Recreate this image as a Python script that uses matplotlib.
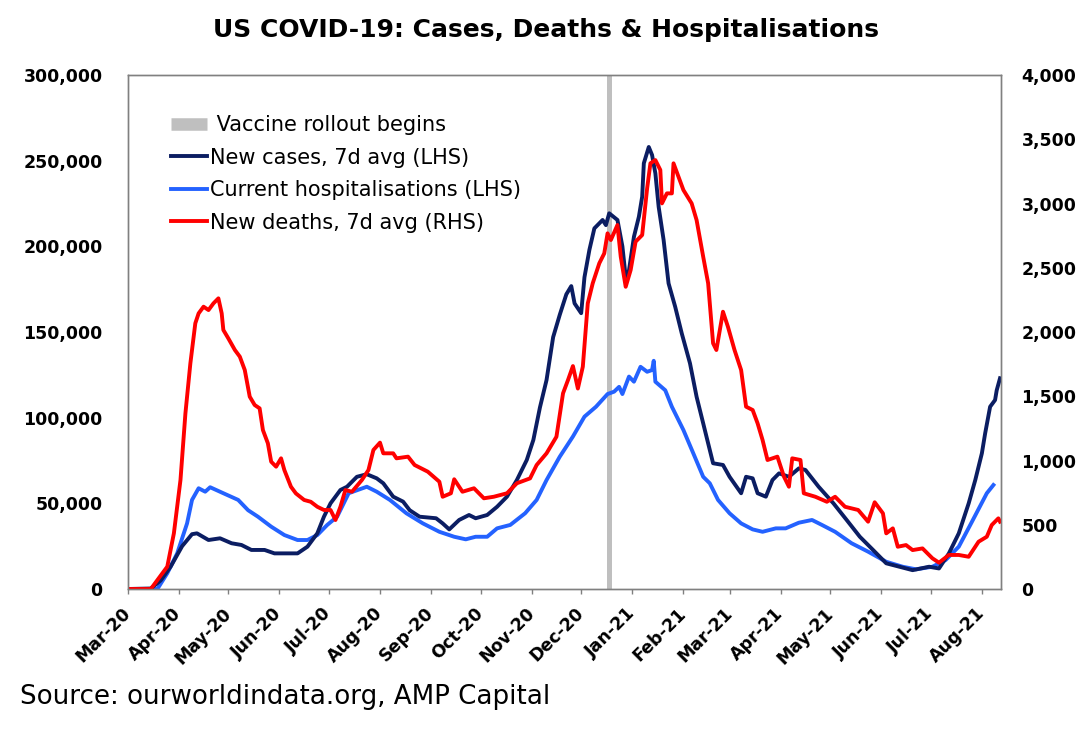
import datetime as dt

import matplotlib.dates as mdates
import matplotlib.pyplot as plt
import pandas as pd
from matplotlib.lines import Line2D
from matplotlib.ticker import FuncFormatter, MultipleLocator

# values
cases_dates = [
    "2020-03-01", "2020-03-15", "2020-03-21", "2020-03-27", "2020-04-03", "2020-04-09",
    "2020-04-12", "2020-04-19", "2020-04-26", "2020-05-03", "2020-05-09", "2020-05-15",
    "2020-05-23", "2020-05-29", "2020-06-06", "2020-06-12", "2020-06-18", "2020-06-24",
    "2020-06-28", "2020-07-02", "2020-07-08", "2020-07-12", "2020-07-18", "2020-07-24",
    "2020-07-30", "2020-08-03", "2020-08-09", "2020-08-15", "2020-08-19", "2020-08-25",
    "2020-09-04", "2020-09-08", "2020-09-12", "2020-09-18", "2020-09-24", "2020-09-28",
    "2020-10-05", "2020-10-11", "2020-10-17", "2020-10-23", "2020-10-29", "2020-11-02",
    "2020-11-06", "2020-11-10", "2020-11-14", "2020-11-18", "2020-11-22", "2020-11-25",
    "2020-11-27", "2020-12-01", "2020-12-03", "2020-12-06", "2020-12-09", "2020-12-14",
    "2020-12-16", "2020-12-18", "2020-12-23", "2020-12-26", "2020-12-28", "2020-12-30",
    "2021-01-02", "2021-01-05", "2021-01-07", "2021-01-08", "2021-01-11", "2021-01-13",
    "2021-01-15", "2021-01-17", "2021-01-20", "2021-01-23", "2021-01-27", "2021-01-31",
    "2021-02-05", "2021-02-09", "2021-02-13", "2021-02-15", "2021-02-19", "2021-02-25",
    "2021-03-01", "2021-03-08", "2021-03-11", "2021-03-15", "2021-03-18", "2021-03-23",
    "2021-03-27", "2021-03-31", "2021-04-06", "2021-04-12", "2021-04-16", "2021-04-24",
    "2021-05-03", "2021-05-11", "2021-05-19", "2021-05-27", "2021-06-04", "2021-06-12",
    "2021-06-20", "2021-06-30", "2021-07-06", "2021-07-12", "2021-07-18", "2021-07-24",
    "2021-07-28", "2021-08-01", "2021-08-03", "2021-08-06", "2021-08-09", "2021-08-10",
    "2021-08-12",
]
cases = [
    0, 300, 5000, 13000, 25000, 32000,
    32500, 28600, 29600, 26700, 25700, 22800,
    22800, 20800, 20800, 20800, 24700, 32500,
    42200, 50000, 57800, 59700, 65500, 67000,
    64600, 61700, 53900, 51000, 46000, 42200,
    41300, 38300, 34800, 40300, 43200, 41300,
    43200, 48000, 53900, 63600, 75300, 87000,
    106000, 122000, 147000, 160000, 172000, 176800,
    166700, 161000, 182000, 198000, 210500, 215400,
    212400, 219300, 215400, 200000, 182000, 186000,
    205600, 217300, 229000, 248500, 258000, 253300,
    242600, 223000, 203700, 178400, 164800, 149200,
    131700, 112200, 96700, 88900, 73400, 72400,
    65500, 55900, 65500, 64600, 55900, 53900,
    63600, 67500, 65500, 70400, 69500, 59700,
    50000, 40300, 30500, 22800, 15000, 13000,
    11000, 13000, 12000, 20800, 32500, 50000,
    63600, 79200, 90900, 106400, 110300, 116000,
    123000,
]

hosp_dates = [
    "2020-03-01", "2020-03-19", "2020-03-25", "2020-03-31", "2020-04-06", "2020-04-09",
    "2020-04-13", "2020-04-17", "2020-04-20", "2020-04-28", "2020-05-07", "2020-05-13",
    "2020-05-19", "2020-05-27", "2020-06-04", "2020-06-12", "2020-06-18", "2020-06-24",
    "2020-06-30", "2020-07-06", "2020-07-13", "2020-07-24", "2020-07-30", "2020-08-07",
    "2020-08-17", "2020-08-27", "2020-09-06", "2020-09-15", "2020-09-22", "2020-09-28",
    "2020-10-05", "2020-10-11", "2020-10-19", "2020-10-28", "2020-11-04", "2020-11-10",
    "2020-11-18", "2020-11-26", "2020-12-03", "2020-12-10", "2020-12-17", "2020-12-21",
    "2020-12-24", "2020-12-26", "2020-12-30", "2021-01-02", "2021-01-06", "2021-01-10",
    "2021-01-13", "2021-01-14", "2021-01-15", "2021-01-21", "2021-01-25", "2021-02-01",
    "2021-02-07", "2021-02-13", "2021-02-17", "2021-02-22", "2021-03-01", "2021-03-08",
    "2021-03-15", "2021-03-21", "2021-03-29", "2021-04-04", "2021-04-12", "2021-04-20",
    "2021-04-26", "2021-05-04", "2021-05-14", "2021-05-24", "2021-06-04", "2021-06-14",
    "2021-06-22", "2021-07-02", "2021-07-10", "2021-07-18", "2021-07-26", "2021-08-04",
    "2021-08-08",
]
hosp = [
    0, 0, 9200, 20800, 38300, 52000,
    58800, 56800, 59400, 55900, 52000, 46000,
    42200, 36400, 31500, 28600, 28600, 31500,
    37400, 42200, 55900, 59700, 56800, 52000,
    44200, 38300, 33400, 30500, 29000, 30500,
    30500, 35400, 37400, 44200, 52000, 63600,
    77200, 89000, 100600, 106400, 113800, 115200,
    118000, 113800, 124000, 121000, 129700, 126800,
    127800, 133200, 121000, 116000, 106400, 92800,
    79200, 65500, 61700, 52000, 44200, 38300,
    34800, 33400, 35400, 35400, 38700, 40300,
    37400, 33400, 26700, 21800, 15900, 13000,
    11500, 13000, 16900, 24700, 39300, 55900,
    60700,
]

deaths_dates = [
    "2020-03-01", "2020-03-15", "2020-03-19", "2020-03-25", "2020-03-29", "2020-04-02",
    "2020-04-05", "2020-04-08", "2020-04-11", "2020-04-13", "2020-04-16", "2020-04-19",
    "2020-04-22", "2020-04-25", "2020-04-27", "2020-04-28", "2020-05-01", "2020-05-05",
    "2020-05-08", "2020-05-11", "2020-05-14", "2020-05-17", "2020-05-20", "2020-05-22",
    "2020-05-25", "2020-05-27", "2020-05-30", "2020-06-02", "2020-06-04", "2020-06-08",
    "2020-06-11", "2020-06-16", "2020-06-20", "2020-06-24", "2020-06-28", "2020-07-02",
    "2020-07-05", "2020-07-08", "2020-07-11", "2020-07-15", "2020-07-21", "2020-07-25",
    "2020-07-28", "2020-08-01", "2020-08-03", "2020-08-09", "2020-08-11", "2020-08-18",
    "2020-08-22", "2020-08-30", "2020-09-06", "2020-09-08", "2020-09-13", "2020-09-15",
    "2020-09-20", "2020-09-27", "2020-10-03", "2020-10-09", "2020-10-17", "2020-10-23",
    "2020-10-31", "2020-11-04", "2020-11-10", "2020-11-16", "2020-11-20", "2020-11-23",
    "2020-11-26", "2020-11-29", "2020-12-02", "2020-12-05", "2020-12-08", "2020-12-12",
    "2020-12-15", "2020-12-17", "2020-12-19", "2020-12-23", "2020-12-25", "2020-12-28",
    "2020-12-31", "2021-01-03", "2021-01-07", "2021-01-10", "2021-01-12", "2021-01-15",
    "2021-01-18", "2021-01-19", "2021-01-22", "2021-01-25", "2021-01-26", "2021-01-29",
    "2021-02-01", "2021-02-06", "2021-02-09", "2021-02-13", "2021-02-16", "2021-02-19",
    "2021-02-21", "2021-02-25", "2021-02-28", "2021-03-04", "2021-03-08", "2021-03-11",
    "2021-03-15", "2021-03-18", "2021-03-21", "2021-03-24", "2021-03-30", "2021-04-03",
    "2021-04-06", "2021-04-08", "2021-04-13", "2021-04-15", "2021-04-22", "2021-04-29",
    "2021-05-04", "2021-05-10", "2021-05-18", "2021-05-24", "2021-05-28", "2021-06-02",
    "2021-06-04", "2021-06-08", "2021-06-11", "2021-06-16", "2021-06-20", "2021-06-26",
    "2021-07-02", "2021-07-06", "2021-07-12", "2021-07-18", "2021-07-24", "2021-07-30",
    "2021-08-04", "2021-08-07", "2021-08-11", "2021-08-12",
]
deaths = [
    0, 0, 70, 174, 433, 848,
    1367, 1756, 2068, 2145, 2197, 2171,
    2223, 2262, 2145, 2016, 1951, 1860,
    1808, 1704, 1497, 1432, 1406, 1237,
    1134, 991, 952, 1017, 926, 796,
    744, 693, 679, 640, 615, 615,
    537, 640, 770, 757, 848, 926,
    1082, 1139, 1056, 1056, 1017, 1030,
    965, 913, 835, 718, 745, 854,
    757, 784, 706, 718, 745, 823,
    861, 965, 1056, 1185, 1523, 1626,
    1735, 1560, 1730, 2223, 2379, 2535,
    2612, 2768, 2716, 2833, 2586, 2352,
    2482, 2703, 2755, 3118, 3313, 3338,
    3261, 3001, 3079, 3079, 3313, 3209,
    3105, 3001, 2871, 2586, 2379, 1912,
    1860, 2158, 2041, 1860, 1704, 1419,
    1393, 1289, 1160, 1004, 1030, 874,
    796, 1017, 1004, 745, 718, 679,
    718, 640, 615, 524, 675, 589,
    433, 472, 329, 342, 303, 316,
    239, 205, 265, 265, 251, 368,
    407, 498, 550, 524,
]

vaccine_date = "2020-12-18"

navy = "#0B1D62"
blue = "#2462FF"
red = "#FF0000"
grey = "#BFBFBF"
spine_col = "#808080"

plt.rcParams["font.family"] = ["DejaVu Sans"]

fig = plt.figure(figsize=(10.85, 7.37), dpi=100)
ax = fig.add_axes([0.1177, 0.2008, 0.8046, 0.6974])
ax2 = ax.twinx()

ax.axvline(pd.Timestamp(vaccine_date), color=grey, lw=3.6, zorder=1)
ax.plot(pd.to_datetime(cases_dates), cases, color=navy, lw=2.8, zorder=3)
ax.plot(pd.to_datetime(hosp_dates), hosp, color=blue, lw=2.8, zorder=2)
ax2.plot(pd.to_datetime(deaths_dates), deaths, color=red, lw=2.8)

ax.set_xlim(dt.datetime(2020, 3, 1), dt.datetime(2021, 8, 12, 10))
ax.set_ylim(0, 300000)
ax2.set_ylim(0, 4000)
ax.yaxis.set_major_locator(MultipleLocator(50000))
ax2.yaxis.set_major_locator(MultipleLocator(500))
fmt = FuncFormatter(lambda v, _: f"{v:,.0f}")
ax.yaxis.set_major_formatter(fmt)
ax2.yaxis.set_major_formatter(fmt)

ax.xaxis.set_major_locator(mdates.MonthLocator())
ax.xaxis.set_major_formatter(mdates.DateFormatter("%b-%y"))

ax.tick_params(axis="y", length=0, pad=18, labelsize=12.5)
ax2.tick_params(axis="y", length=0, pad=15, labelsize=12.5)
ax.tick_params(axis="x", length=3.6, width=1, color=spine_col, pad=12, labelsize=12.5)
for lab in ax.get_xticklabels():
    lab.set_rotation(45)
    lab.set_ha("right")
    lab.set_va("center")
    lab.set_rotation_mode("anchor")
for lab in ax.get_xticklabels() + ax.get_yticklabels() + ax2.get_yticklabels():
    lab.set_fontweight("bold")

for a in (ax, ax2):
    for s in a.spines.values():
        s.set_color(spine_col)
        s.set_linewidth(1)

handles = [
    Line2D([], [], color=grey, lw=9, solid_capstyle="butt"),
    Line2D([], [], color=navy, lw=2.8),
    Line2D([], [], color=blue, lw=2.8),
    Line2D([], [], color=red, lw=2.8),
]
labels = [
    " Vaccine rollout begins",
    "New cases, 7d avg (LHS)",
    "Current hospitalisations (LHS)",
    "New deaths, 7d avg (RHS)",
]
ax2.legend(handles, labels, loc="upper left", bbox_to_anchor=(0.0496, 0.922),
           frameon=False, fontsize=15, handlelength=1.75, handletextpad=0.1,
           labelspacing=0.6, borderpad=0, borderaxespad=0)

fig.text(0.503, 0.959, "US COVID-19: Cases, Deaths & Hospitalisations",
         ha="center", va="center", fontsize=18, fontweight="bold")
fig.text(0.0184, 0.054, "Source: ourworldindata.org, AMP Capital",
         ha="left", va="center", fontsize=18.8)

fig.savefig("out.png", dpi=100)
